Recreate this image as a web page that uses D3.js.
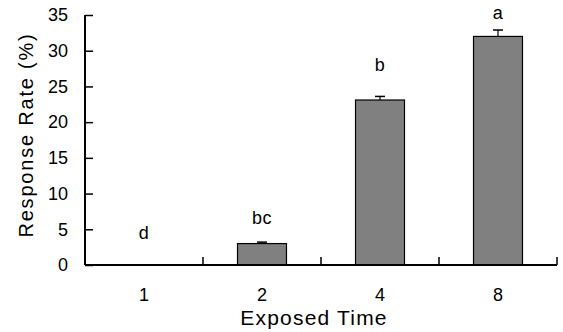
<!DOCTYPE html>
<html>
<head>
<meta charset="utf-8">
<script src="https://cdn.jsdelivr.net/npm/d3@7"></script>
<style>
  body { margin: 0; background: #fff; }
  text { font-family: "Liberation Sans", Arial, sans-serif; fill: #000; }
</style>
</head>
<body>
<div id="chart"></div>
<script>
// data
const categories = ['1', '2', '4', '8'];
const responseRate = [0, 3.0, 23.1, 32.0];
const errorUp = [0, 0.2, 0.5, 0.9];
const letters = ['d', 'bc', 'b', 'a'];
const letterLevel = [4.5, 6.6, 28.0, 35.3];
const yTicks = [0, 5, 10, 15, 20, 25, 30, 35];

const boxWidth = 563;
const boxHeight = 332;

const svg = d3.select('#chart')
  .append('svg')
  .attr('width', boxWidth)
  .attr('height', boxHeight);

const margin = { top: 15, right: 6, bottom: 67, left: 85 };
const graphWidth = boxWidth - margin.left - margin.right;
const graphHeight = boxHeight - margin.top - margin.bottom;

const graph = svg.append('g')
  .attr('transform', `translate(${margin.left}, ${margin.top})`);

// scales
const xScale = d3.scaleBand()
  .domain(categories)
  .range([0, graphWidth])
  .paddingInner(0)
  .paddingOuter(0);

const yScale = d3.scaleLinear()
  .domain([0, 35])
  .range([graphHeight, 0]);

const barWidth = xScale.bandwidth() * 0.415;

// bars
graph.selectAll('rect.bar')
  .data(responseRate)
  .enter()
  .append('rect')
  .attr('class', 'bar')
  .attr('x', (d, i) => xScale(categories[i]) + (xScale.bandwidth() - barWidth) / 2)
  .attr('y', d => yScale(d))
  .attr('width', barWidth)
  .attr('height', d => graphHeight - yScale(d))
  .attr('fill', '#808080')
  .attr('stroke', '#000')
  .attr('stroke-width', 1.2)
  .style('display', d => d > 0 ? null : 'none');

// error bars (upper only)
const errG = graph.selectAll('g.err')
  .data(responseRate)
  .enter()
  .append('g')
  .attr('class', 'err')
  .style('display', d => d > 0 ? null : 'none');

errG.append('line')
  .attr('x1', (d, i) => xScale(categories[i]) + xScale.bandwidth() / 2)
  .attr('x2', (d, i) => xScale(categories[i]) + xScale.bandwidth() / 2)
  .attr('y1', d => yScale(d))
  .attr('y2', (d, i) => yScale(d + errorUp[i]))
  .attr('stroke', '#000')
  .attr('stroke-width', 1.2);

errG.append('line')
  .attr('x1', (d, i) => xScale(categories[i]) + xScale.bandwidth() / 2 - 5)
  .attr('x2', (d, i) => xScale(categories[i]) + xScale.bandwidth() / 2 + 5)
  .attr('y1', (d, i) => yScale(d + errorUp[i]))
  .attr('y2', (d, i) => yScale(d + errorUp[i]))
  .attr('stroke', '#000')
  .attr('stroke-width', 1.5);

// significance letters
graph.selectAll('text.letter')
  .data(letters)
  .enter()
  .append('text')
  .attr('class', 'letter')
  .attr('x', (d, i) => xScale(categories[i]) + xScale.bandwidth() / 2)
  .attr('y', (d, i) => yScale(letterLevel[i]))
  .attr('dy', '0.35em')
  .attr('text-anchor', 'middle')
  .style('font-size', '18px')
  .style('letter-spacing', '0.5px')
  .text(d => d);

// y axis
const yAxis = d3.axisLeft(yScale)
  .tickValues(yTicks)
  .tickSize(-8)
  .tickPadding(17);

const yAxisGroup = graph.append('g').call(yAxis);
yAxisGroup.select('.domain')
  .attr('d', `M0,0V${graphHeight}`)
  .attr('stroke-width', 2);
yAxisGroup.selectAll('.tick line').attr('stroke-width', 1.5);
yAxisGroup.selectAll('text')
  .style('font-size', '18px')
  .attr('font-family', null);

// x axis: labels at band centres, ticks at band edges
const xAxis = d3.axisBottom(xScale)
  .tickSize(0)
  .tickPadding(23);

const xAxisGroup = graph.append('g')
  .attr('transform', `translate(0, ${graphHeight})`)
  .call(xAxis);
xAxisGroup.select('.domain')
  .attr('d', `M0,0H${graphWidth}`)
  .attr('stroke-width', 2);
xAxisGroup.selectAll('text')
  .style('font-size', '18px')
  .attr('font-family', null);

const edgeScale = d3.scaleLinear()
  .domain([0, categories.length])
  .range([0, graphWidth]);

xAxisGroup.selectAll('line.edge')
  .data(d3.range(1, categories.length + 1))
  .enter()
  .append('line')
  .attr('class', 'edge')
  .attr('x1', d => edgeScale(d))
  .attr('x2', d => edgeScale(d))
  .attr('y1', 0)
  .attr('y2', -8)
  .attr('stroke', '#000')
  .attr('stroke-width', 1.5);

// axis titles
svg.append('text')
  .attr('x', 314)
  .attr('y', 325)
  .attr('text-anchor', 'middle')
  .style('font-size', '21px')
  .style('letter-spacing', '1.2px')
  .text('Exposed Time');

svg.append('text')
  .attr('transform', `translate(33, ${margin.top + graphHeight / 2 - 5}) rotate(-90)`)
  .attr('text-anchor', 'middle')
  .style('font-size', '20px')
  .style('letter-spacing', '1.8px')
  .text('Response Rate (%)');
</script>
</body>
</html>
